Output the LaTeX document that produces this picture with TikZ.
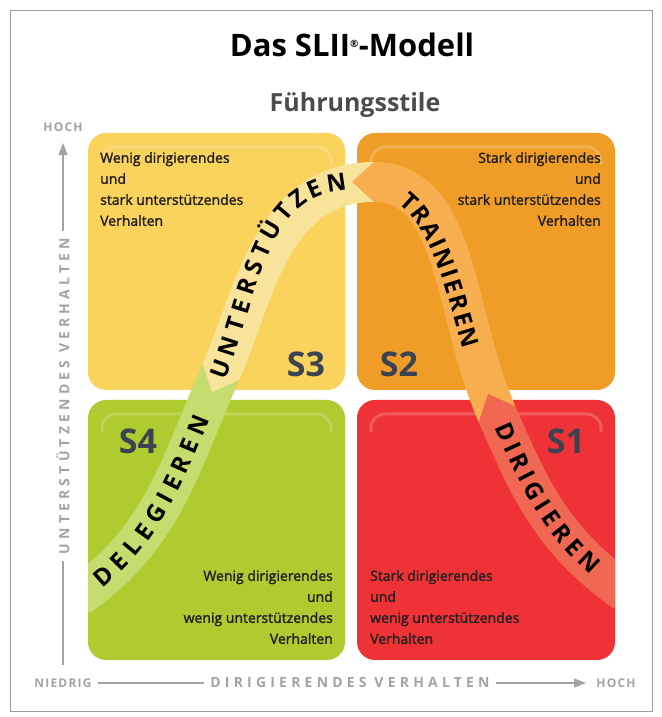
\documentclass[tikz,border=0pt]{standalone}
\usepackage{fontspec}
\setmainfont{Open Sans}
\newfontfamily\axisfont[LetterSpace=30]{Open Sans}
\newfontfamily\endfont[LetterSpace=10]{Open Sans}
\newfontfamily\quadfont[FakeBold=1.7]{Open Sans}
\usetikzlibrary{arrows.meta}
\usetikzlibrary{decorations.text}
\definecolor{quadyellow}{HTML}{F9D35C}
\definecolor{quadorange}{HTML}{EF9D26}
\definecolor{quadgreen}{HTML}{AFCB30}
\definecolor{quadred}{HTML}{EE3236}
\definecolor{bandyellow}{HTML}{F8E39B}
\definecolor{bandorange}{HTML}{F6AE4E}
\definecolor{bandgreen}{HTML}{C6DC6E}
\definecolor{bandred}{HTML}{F06752}
\definecolor{slate}{HTML}{3B4252}
\definecolor{axisgray}{HTML}{A3A3A3}
\definecolor{framegray}{HTML}{9E9E9E}
\definecolor{textdark}{HTML}{231F20}
\newcommand\bandtype{\bfseries\fontsize{24}{24}\selectfont}
\tikzstyle{quadrant}=[rounded corners=18pt]
\tikzstyle{gloss}=[white, opacity=0.2, line width=3pt, rounded corners=14pt]
\tikzstyle{band}=[line width=40pt]
\tikzstyle{band text}=[decorate, decoration={text along path, raise=-8pt}]
\tikzstyle{style label}=[font=\bfseries\fontsize{34}{34}\selectfont, text=slate]
\tikzstyle{quadrant text}=[font=\quadfont\fontsize{14}{21}\selectfont, inner sep=0pt, text=textdark]
\tikzstyle{axis}=[draw=axisgray, line width=1.5pt]
\tikzstyle{axis label}=[text=axisgray, font=\axisfont\bfseries\fontsize{14}{14}\selectfont, inner sep=6pt]
\tikzstyle{end label}=[text=axisgray, font=\endfont\bfseries\fontsize{12}{12}\selectfont, inner sep=6pt]

\begin{document}
\begin{tikzpicture}[x=1pt,y=1pt]
  \useasboundingbox (0,0) rectangle (661,717);
  \draw[framegray, line width=1pt] (10,5) rectangle (652,706);
  \node[font=\bfseries\fontsize{31}{31}\selectfont, text=black] (title) at (352,672) {Das SLII\textsuperscript{\fontsize{10}{10}\selectfont ®}-Modell};
  \node[font=\bfseries\fontsize{25}{25}\selectfont, text=black!70] (subtitle) at (355,612) {Führungsstile};

  \fill[quadrant, quadyellow] (88,327) rectangle (345,584);
  \fill[quadrant, quadorange] (357,327) rectangle (615,584);
  \fill[quadrant, quadgreen] (88,57) rectangle (345,317);
  \fill[quadrant, quadred] (357,57) rectangle (615,317);
  \draw[gloss] (102,552) |- (331,570) -- (331,552);
  \draw[gloss] (371,552) |- (601,570) -- (601,552);
  \draw[gloss] (102,285) |- (331,303) -- (331,285);
  \draw[gloss] (371,285) |- (601,303) -- (601,285);

  \node[quadrant text, anchor=north west, align=left] (tltext) at (100,565) {Wenig dirigierendes\\und\\stark unterstützendes\\Verhalten};
  \node[quadrant text, anchor=north east, align=right] (trtext) at (601,565) {Stark dirigierendes\\und\\stark unterstützendes\\Verhalten};
  \node[quadrant text, anchor=north east, align=right] (bltext) at (333,147) {Wenig dirigierendes\\und\\wenig unterstützendes\\Verhalten};
  \node[quadrant text, anchor=north west, align=left] (brtext) at (370,147) {Stark dirigierendes\\und\\wenig unterstützendes\\Verhalten};

  \node[style label] (s3) at (306,353) {S3};
  \node[style label] (s2) at (399,353) {S2};
  \node[style label] (s4) at (138,276) {S4};
  \node[style label] (s1) at (566,276) {S1};

  \coordinate (l) at (78,120);
  \coordinate (a) at (212,325);
  \coordinate (abase) at (221,345);
  \coordinate (t) at (352,535);
  \coordinate (tbase) at (374,535);
  \coordinate (b) at (488,323);
  \coordinate (bbase) at (497,303);
  \coordinate (r) at (625,125);
  \begin{scope}
    \clip (88,0) rectangle (615,717);
    \draw[band, bandgreen] (abase) to[out=246,in=35] (l);
    \draw[band, bandyellow, shorten >=22pt] (tbase) to[out=180,in=66] (a);
    \fill[bandyellow, shift={(a)}, rotate=246] (0,0) -- (-22,20) -- (-22,-20) -- cycle;
    \draw[band, bandorange, shorten >=22pt] (bbase) to[out=114,in=0] (t);
    \fill[bandorange, shift={(t)}, rotate=180] (0,0) -- (-22,20) -- (-22,-20) -- cycle;
    \draw[band, bandred, shorten >=22pt] (r) to[out=145,in=-66] (b);
    \fill[bandred, shift={(b)}, rotate=114] (0,0) -- (-22,20) -- (-22,-20) -- cycle;
  \end{scope}
  \path[band text, decoration={text={|\bandtype|DELEGIEREN}, text align={left indent=24pt, right indent=48pt, fit to path}}] (l) to[out=35,in=246] (abase);
  \path[band text, decoration={text={|\bandtype|UNTERSTÜTZEN}, text align={left indent=15pt, right indent=6pt, fit to path}}] (a) to[out=66,in=180] (t);
  \path[band text, decoration={text={|\bandtype|TRAINIEREN}, text align={left indent=55pt, right indent=50pt, fit to path}}] (t) to[out=0,in=114] (b);
  \path[band text, decoration={text={|\bandtype|DIRIGIEREN}, text align={left indent=33pt, right indent=37pt, fit to path}}] (b) to[out=-66,in=145] (r);

  \coordinate (ybot) at (63,52);
  \coordinate (ytop) at (63,574);
  \node[end label] (yhoch) at (63,590) {HOCH};
  \node[axis label, rotate=90] (ylab) at (63,321) {UNTERSTÜTZENDES VERHALTEN};
  \draw[axis] (ybot) -- (ylab.west);
  \draw[axis, -{Triangle[length=12pt,width=9pt]}] (ylab.east) -- (ytop);

  \coordinate (xtip) at (586,34);
  \node[end label] (niedrig) at (63,34) {NIEDRIG};
  \node[axis label] (xlab) at (350,34) {DIRIGIERENDES VERHALTEN};
  \node[end label] (xhoch) at (616,34) {HOCH};
  \draw[axis] (niedrig.east) -- (xlab.west);
  \draw[axis, -{Triangle[length=12pt,width=9pt]}] (xlab.east) -- (xtip);
\end{tikzpicture}
\end{document}
